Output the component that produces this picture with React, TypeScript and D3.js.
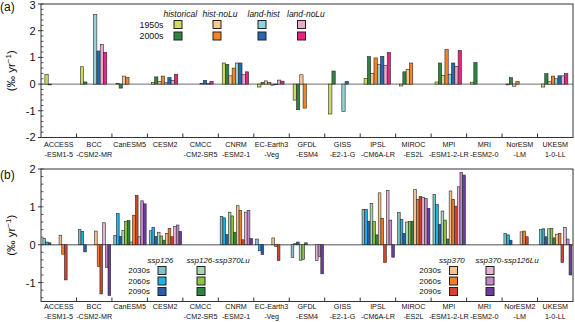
import React from 'react';
import * as d3 from 'd3';

const W = 575;
const H = 322;
const FONT = "'Liberation Sans', Arial, Helvetica, sans-serif";

// ---------- categories ----------
const labelsA = [
  'ACCESS\n-ESM1-5', 'BCC\n-CSM2-MR', 'CanESM5', 'CESM2', 'CMCC\n-CM2-SR5', 'CNRM\n-ESM2-1',
  'EC-Earth3\n-Veg', 'GFDL\n-ESM4', 'GISS\n-E2-1-G', 'IPSL\n-CM6A-LR', 'MIROC\n-ES2L',
  'MPI\n-ESM1-2-LR', 'MRI\n-ESM2-0', 'NorESM\n-LM', 'UKESM\n1-0-LL',
];
const labelsB = [
  'ACCESS\n-ESM1-5', 'BCC\n-CSM2-MR', 'CanESM5', 'CESM2', 'CMCC\n-CM2-SR5', 'CNRM\n-ESM2-1',
  'EC-Earth3\n-Veg', 'GFDL\n-ESM4', 'GISS\n-E2-1-G', 'IPSL\n-CM6A-LR', 'MIROC\n-ES2L',
  'MPI\n-ESM1-2-LR', 'MRI\n-ESM2-0', 'NorESM2\n-LM', 'UKESM\n1-0-LL',
];

// ---------- panel (a) series ----------
const historical1950s = [0.37, 0.65, 0.03, 0.06, null, 0.79, -0.11, -0.6, -1.12, 0.21, -0.07, 0.08, 0.07, -0.03, -0.11];
const historical2000s = [-0.03, 0.08, -0.15, 0.27, null, 0.74, 0.06, -0.96, 0.49, 1.03, 0.46, 0.79, 0.81, 0.24, 0.39];
const histNoLu1950s = [null, null, 0.3, 0.09, null, 0.31, 0.12, 0.35, null, 0.4, 0.55, 0.33, null, -0.08, 0.09];
const histNoLu2000s = [null, null, 0.25, 0.3, null, 0.6, 0.06, -0.9, null, 0.98, 0.79, 1.29, null, 0.09, 0.3];
const landHist1950s = [null, 2.61, null, 0.05, 0.03, 0.79, -0.04, null, -1.02, 0.73, null, 0.37, null, null, 0.2];
const landHist2000s = [null, 1.24, null, 0.24, 0.14, 0.79, -0.02, null, 0.1, 1.04, null, 0.79, null, null, 0.31];
const landNoLu1950s = [null, 1.49, null, 0.14, 0.02, 0.35, 0.15, null, null, 0.69, null, 0.66, null, null, 0.31];
const landNoLu2000s = [null, 1.19, null, 0.37, 0.1, 0.46, 0.11, null, null, 1.18, null, 1.26, null, null, 0.39];

// ---------- panel (b) series ----------
const ssp126_2030s = [0.17, 0.4, 0.25, 0.37, null, 0.75, 0.15, -0.34, null, 0.93, 0.85, 1.33, null, 0.3, 0.4];
const ssp126_2060s = [0.07, 0.35, 0.82, 0.46, null, 0.71, -0.16, 0.03, null, 0.93, 0.67, 1.06, null, 0.26, 0.42];
const ssp126_2090s = [0.05, -0.19, 0.22, 0.22, null, 0.27, -0.26, 0.07, null, 0.62, 0.3, 0.54, null, 0.12, 0.21];
const ssp126Lu_2030s = [null, null, 0.38, 0.33, null, 0.86, null, -0.41, null, 1.09, 0.6, 0.89, null, null, 0.42];
const ssp126Lu_2060s = [null, null, 0.62, 0.23, null, 0.76, null, -0.39, null, 0.61, 0.61, 0.65, null, null, 0.43];
const ssp126Lu_2090s = [null, null, 0.64, 0.12, null, 0.33, null, 0.05, null, 0.26, 0.62, 0.15, null, null, 0.18];
const ssp370_2030s = [0.25, 0.36, 0.07, 0.3, null, 1.03, 0.18, null, null, 1.37, 1.46, 1.42, null, 0.34, 0.28];
const ssp370_2060s = [-0.25, -0.57, 0.78, 0.43, null, 0.9, -0.05, null, null, 0.7, 1.2, 1.2, null, 0.36, 0.3];
const ssp370_2090s = [-0.93, -1.3, 1.3, 0.21, null, 0.13, -0.42, null, null, -0.47, 1.27, 1.02, null, 0.21, -0.47];
const ssp370Lu_2030s = [null, 0.58, 0.21, 0.48, null, 0.86, null, -0.42, null, 1.43, 1.25, 1.53, null, null, 0.45];
const ssp370Lu_2060s = [null, -0.6, 1.16, 0.52, null, 0.91, null, -0.31, null, 0.65, 1.22, 1.91, null, null, 0.15];
const ssp370Lu_2090s = [null, -1.34, 1.08, 0.35, null, 0.16, null, -0.77, null, -0.33, 0.96, 1.84, null, null, -0.8];

// ---------- ticks / legend text ----------
const ticksA = [3, 2, 1, 0, -1, -2];
const ticksB = [2, 1, 0, -1];
const headersA = ['historical', 'hist-noLu', 'land-hist', 'land-noLu'];
const rowsA = ['1950s', '2000s'];
const headersBLeft = ['ssp126', 'ssp126-ssp370Lu'];
const headersBRight = ['ssp370', 'ssp370-ssp126Lu'];
const rowsB = ['2030s', '2060s', '2090s'];

const colorsA = ['#cddc5c', '#2e8540', '#f9c892', '#f5832a', '#8fd3dc', '#2468b4', '#e8aacd', '#e62580'];
const colorsB = [
  '#80c3c6', '#22b0e6', '#2a5ea8',
  '#a8d6b2', '#8cc53f', '#2e8540',
  '#f6c38f', '#f07f26', '#d2452a',
  '#e6b3d2', '#c688c8', '#6a3d9c',
];

const seriesA = [historical1950s, historical2000s, histNoLu1950s, histNoLu2000s, landHist1950s, landHist2000s, landNoLu1950s, landNoLu2000s];
const seriesB = [ssp126_2030s, ssp126_2060s, ssp126_2090s, ssp126Lu_2030s, ssp126Lu_2060s, ssp126Lu_2090s,
  ssp370_2030s, ssp370_2060s, ssp370_2090s, ssp370Lu_2030s, ssp370Lu_2060s, ssp370Lu_2090s];

const LEFT = 41;
const RIGHT = 573;

type PanelProps = {
  top: number; bottom: number; domain: [number, number]; ticks: number[];
  series: (number | null)[][]; colors: string[]; labels: string[];
  labelBase: number; panelLabel: string; panelLabelY: number;
  padOuter: number; align: number;
};

function Panel(p: PanelProps) {
  const x0 = d3.scaleBand<number>().domain(d3.range(p.labels.length)).range([LEFT, RIGHT]).padding(0);
  const x1 = d3.scaleBand<number>().domain(d3.range(p.series.length)).range([0, x0.bandwidth()])
    .paddingInner(0).paddingOuter(p.padOuter).align(p.align);
  const y = d3.scaleLinear().domain(p.domain).range([p.bottom, p.top]);
  const minor: number[] = [];
  for (let k = Math.round(p.domain[0] * 5); k <= Math.round(p.domain[1] * 5); k++) minor.push(k / 5);
  const midY = (p.top + p.bottom) / 2;
  return (
    <g>
      <text x={0} y={p.panelLabelY} fontSize={12} fontFamily={FONT} fill="#111">{p.panelLabel}</text>
      {/* zero line */}
      <line x1={LEFT} x2={RIGHT} y1={y(0)} y2={y(0)} stroke="#8a8a8a" strokeWidth={1.4} />
      {/* bars */}
      {p.series.map((s, si) => s.map((v, i) => {
        if (v === null) return null;
        const yy = y(Math.max(0, v));
        const h = Math.max(0.6, Math.abs(y(v) - y(0)));
        return (
          <rect key={si + '-' + i} x={(x0(i) as number) + (x1(si) as number)} y={yy}
            width={x1.bandwidth()} height={h} fill={p.colors[si]} stroke="#2a2a2a" strokeWidth={0.6} />
        );
      }))}
      {/* frame */}
      <rect x={LEFT} y={p.top} width={RIGHT - LEFT} height={p.bottom - p.top} fill="none" stroke="#333" strokeWidth={1} />
      {/* minor ticks */}
      {minor.map((m) => (
        <line key={'m' + m} x1={LEFT} x2={LEFT + 2.5} y1={y(m)} y2={y(m)} stroke="#333" strokeWidth={0.8} />
      ))}
      {/* major ticks */}
      {p.ticks.map((t) => (
        <g key={'t' + t}>
          <line x1={LEFT - 3} x2={LEFT} y1={y(t)} y2={y(t)} stroke="#333" strokeWidth={1} />
          <text x={35.5} y={Math.max(y(t), 5)} dy="0.36em" textAnchor="end" fontSize={11} fontFamily={FONT} fill="#111">{t}</text>
        </g>
      ))}
      {/* category boundary ticks */}
      {d3.range(1, p.labels.length).map((i) => (
        <line key={'c' + i} x1={x0(i) as number} x2={x0(i) as number} y1={p.bottom} y2={p.bottom - 4} stroke="#333" strokeWidth={1} />
      ))}
      {/* category labels */}
      {p.labels.map((lab, i) => (
        <text key={'l' + i} x={(x0(i) as number) + x0.bandwidth() / 2} y={p.labelBase} textAnchor="middle"
          fontSize={7.2} fontFamily={FONT} fill="#111">
          {lab.split('\n').map((ln, j) => (
            <tspan key={j} x={(x0(i) as number) + x0.bandwidth() / 2} dy={j === 0 ? 0 : 9.5}>{ln}</tspan>
          ))}
        </text>
      ))}
      {/* y label */}
      <text transform={`translate(15,${midY}) rotate(-90)`} textAnchor="middle" fontSize={11.5} fontFamily={FONT} fill="#111">
        (‰ yr<tspan dy={-4} fontSize={8}>−1</tspan><tspan dy={4}>)</tspan>
      </text>
    </g>
  );
}

function Legend(props: {
  headers: string[]; rows: string[]; colors: string[][]; swX: number[]; swY: number[];
  headerY: number; rowEnd: number; fontSize: number; headerSize: number;
}) {
  return (
    <g fontFamily={FONT} fill="#111">
      {props.headers.map((h, i) => (
        <text key={'h' + i} x={props.swX[i] - 10.5} y={props.headerY} fontStyle="italic" fontSize={props.headerSize}>{h}</text>
      ))}
      {props.rows.map((r, j) => (
        <text key={'r' + j} x={props.rowEnd} y={props.swY[j] + 4} dy="0.35em" textAnchor="end" fontSize={props.fontSize}>{r}</text>
      ))}
      {props.headers.map((h, i) => props.rows.map((r, j) => (
        <rect key={i + '-' + j} x={props.swX[i]} y={props.swY[j]} width={8} height={8}
          fill={props.colors[i][j]} stroke="#222" strokeWidth={1} />
      )))}
    </g>
  );
}

export default function App() {
  return (
    <svg width={W} height={H} viewBox={`0 0 ${W} ${H}`} style={{ position: 'absolute', left: 0, top: 0, display: 'block', background: '#fff' }}>
      <Panel top={4} bottom={137.5} domain={[-2, 3]} ticks={ticksA} series={seriesA} colors={colorsA}
        labels={labelsA} labelBase={147} panelLabel="(a)" panelLabelY={11} padOuter={1.37} align={0.43} />
      <Panel top={169} bottom={301.5} domain={[-1.5, 2]} ticks={ticksB} series={seriesB} colors={colorsB}
        labels={labelsB} labelBase={309} panelLabel="(b)" panelLabelY={179} padOuter={0.57} align={0.6} />
      <Legend headers={headersA} rows={rowsA}
        colors={[[colorsA[0], colorsA[1]], [colorsA[2], colorsA[3]], [colorsA[4], colorsA[5]], [colorsA[6], colorsA[7]]]}
        swX={[174, 213, 258, 297.5]} swY={[20.5, 32]} headerY={16.5} rowEnd={163.5} fontSize={8.8} headerSize={8.5} />
      <Legend headers={headersBLeft} rows={rowsB}
        colors={[[colorsB[0], colorsB[1], colorsB[2]], [colorsB[3], colorsB[4], colorsB[5]]]}
        swX={[158, 197]} swY={[266.5, 277, 287.5]} headerY={262.5} rowEnd={150} fontSize={8} headerSize={8} />
      <Legend headers={headersBRight} rows={rowsB}
        colors={[[colorsB[6], colorsB[7], colorsB[8]], [colorsB[9], colorsB[10], colorsB[11]]]}
        swX={[449.5, 486]} swY={[266.5, 277, 287.5]} headerY={262.5} rowEnd={441} fontSize={8} headerSize={8} />
    </svg>
  );
}
